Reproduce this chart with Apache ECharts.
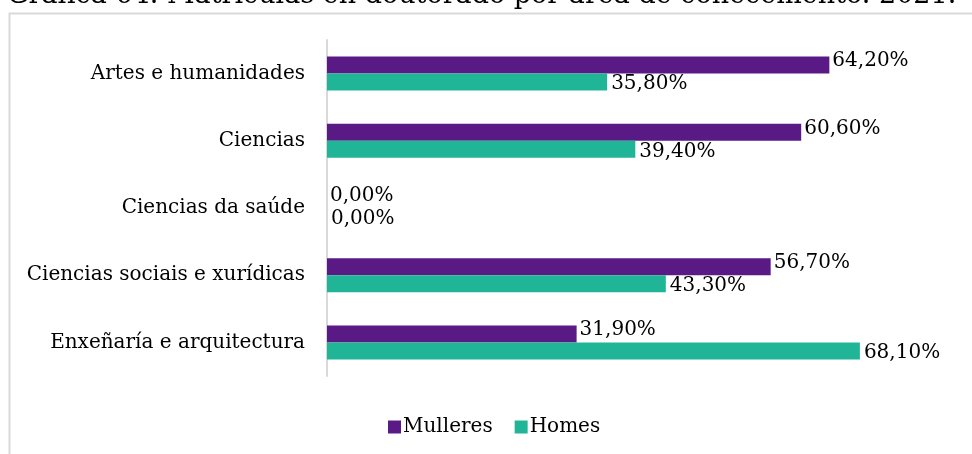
<!DOCTYPE html>
<html>
<head>
<meta charset="utf-8">
<script src="https://cdn.jsdelivr.net/npm/echarts@6/dist/echarts.min.js"></script>
<style>
  html, body { margin: 0; padding: 0; background: #fff; }
  #chart { width: 972px; height: 454px; }
</style>
</head>
<body>
<div id="chart"></div>
<script>
var categories = [
    'Artes e humanidades',
    'Ciencias',
    'Ciencias da saúde',
    'Ciencias sociais e xurídicas',
    'Enxeñaría e arquitectura'
];
var mulleres = [64.2, 60.6, 0, 56.7, 31.9];
var homes = [35.8, 39.4, 0, 43.3, 68.1];

var serif = '"DejaVu Serif", "Liberation Serif", serif';

function pct(p) {
    return p.value.toFixed(2).replace('.', ',') + '%';
}

var myChart = echarts.init(document.getElementById('chart'));

var option = {
    backgroundColor: '#ffffff',
    animation: false,
    title: {
        text: 'Gráfica 64. Matrículas en doutorado por área de coñecemento. 2021.',
        left: 2,
        top: -23,
        textStyle: { fontFamily: serif, fontSize: 27, fontWeight: 'normal', color: '#000' }
    },
    graphic: [{
        type: 'rect',
        left: 7,
        top: 11,
        shape: { width: 990, height: 470 },
        style: { fill: 'none', stroke: '#d9d9d9', lineWidth: 2 },
        silent: true
    }],
    legend: {
        bottom: 17,
        left: 388,
        padding: 0,
        itemWidth: 13,
        itemHeight: 13,
        itemGap: 22,
        icon: 'rect',
        textStyle: { fontFamily: serif, fontSize: 20, color: '#000', padding: [0, 0, 0, -3] },
        data: ['Mulleres', 'Homes']
    },
    grid: {
        left: 327,
        top: 40,
        width: 626,
        height: 336,
        containLabel: false
    },
    xAxis: {
        type: 'value',
        min: 0,
        max: 80,
        show: false
    },
    yAxis: {
        type: 'category',
        data: categories,
        inverse: true,
        axisLine: { lineStyle: { color: '#d9d9d9', width: 2 } },
        axisTick: { show: false },
        axisLabel: { fontFamily: serif, fontSize: 20, color: '#000', margin: 22 }
    },
    series: [{
        name: 'Mulleres',
        type: 'bar',
        data: mulleres,
        barWidth: 17,
        barGap: 0,
        itemStyle: { color: '#5a1a86' },
        label: {
            show: true,
            position: 'right',
            distance: 3,
            offset: [0, -4],
            formatter: pct,
            fontFamily: serif,
            fontSize: 20,
            color: '#000'
        }
    }, {
        name: 'Homes',
        type: 'bar',
        data: homes,
        barWidth: 17,
        barGap: 0,
        itemStyle: { color: '#20b596' },
        label: {
            show: true,
            position: 'right',
            distance: 4,
            offset: [0, 2],
            formatter: pct,
            fontFamily: serif,
            fontSize: 20,
            color: '#000'
        }
    }]
};

myChart.setOption(option);
</script>
</body>
</html>
